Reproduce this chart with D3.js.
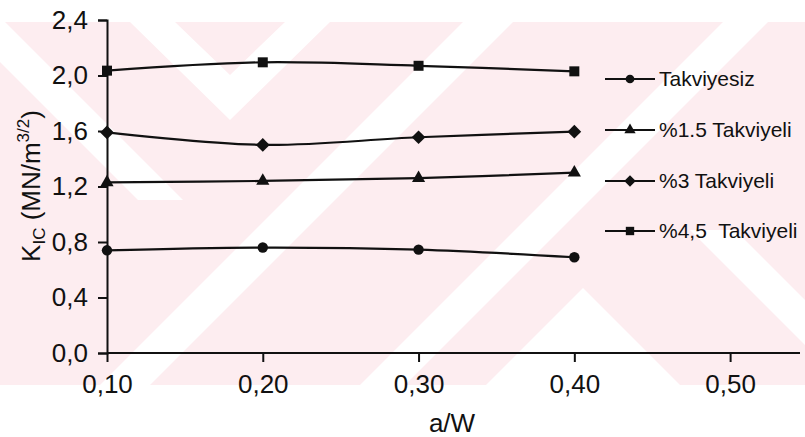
<!DOCTYPE html>
<html>
<head>
<meta charset="utf-8">
<script src="https://cdn.jsdelivr.net/npm/d3@7"></script>
<style>
  html, body { margin: 0; padding: 0; background: #fff; }
  svg { display: block; font-family: "Liberation Sans", Arial, sans-serif; }
</style>
</head>
<body>
<svg id="chart" width="805" height="437"></svg>
<script>
// a/W ratios on the x axis
const ratios = [0.10, 0.20, 0.30, 0.40];
const xTicks = [0.10, 0.20, 0.30, 0.40, 0.50];
const yTicks = [0.0, 0.4, 0.8, 1.2, 1.6, 2.0, 2.4];

// fracture toughness K_IC (MN/m^3/2)
const takviyesiz = [0.74, 0.76, 0.745, 0.69];
const takviyeli15 = [1.23, 1.24, 1.26, 1.30];
const takviyeli3 = [1.59, 1.50, 1.555, 1.595];
const takviyeli45 = [2.035, 2.095, 2.07, 2.03];

const seriesNames = ["Takviyesiz", "%1.5 Takviyeli", "%3 Takviyeli", "%4,5  Takviyeli"];
const seriesValues = [takviyesiz, takviyeli15, takviyeli3, takviyeli45];
const seriesSymbols = [d3.symbolCircle, d3.symbolTriangle, d3.symbolDiamond2, d3.symbolSquare];
const symbolSizes = [85, 75, 120, 100];
const legendSizes = [60, 55, 85, 70];

const svg = d3.select("#chart");
const W = 805;

// faint background print pattern
const bg = svg.append("g");
bg.append("clipPath").attr("id", "band")
  .append("rect").attr("x", 0).attr("y", 22).attr("width", W).attr("height", 363);
const bgc = bg.append("g").attr("clip-path", "url(#band)");
bgc.append("rect").attr("x", 0).attr("y", 22).attr("width", W).attr("height", 363).attr("fill", "#fdedf0");
const whiteShapes = [
  [[130, 22], [230, 120], [330, 22], [285, 22], [230, 75], [175, 22]],
  [[100, 385], [150, 385], [513, 22], [463, 22]],
  [[360, 385], [405, 385], [768, 22], [723, 22]],
  [[583, 288], [680, 385], [486, 385]],
  [[-40, 22], [5, 22], [183, 200], [138, 200]],
  [[690, 230], [735, 230], [890, 385], [845, 385]]
];
bgc.selectAll("polygon").data(whiteShapes).join("polygon")
  .attr("points", d => d.map(p => p.join(",")).join(" "))
  .attr("fill", "#ffffff");

const x = d3.scaleLinear().domain([0.10, 0.55]).range([107, 808]);
const y = d3.scaleLinear().domain([0, 2.4]).range([353, 20]);

// axes
const xAxis = d3.axisBottom(x).tickValues(xTicks).tickSize(9).tickPadding(13)
  .tickFormat(d => d3.format(".2f")(d).replace(".", ","));
const gx = svg.append("g").attr("transform", `translate(0,${y(0)})`).call(xAxis);
gx.select(".domain").attr("d", `M${x(0.10)},0H800`);

const yAxis = d3.axisLeft(y).tickValues(yTicks).tickSize(9).tickPadding(10)
  .tickFormat(d => d3.format(".1f")(d).replace(".", ","));
const gy = svg.append("g").attr("transform", `translate(${x(0.10)},0)`).call(yAxis);

[gx, gy].forEach(g => {
  g.selectAll(".domain").attr("stroke", "#111").attr("stroke-width", 2);
  g.selectAll(".tick line").attr("stroke", "#111").attr("stroke-width", 2);
  g.selectAll(".tick text").attr("fill", "#111").style("font-size", "26px")
    .style("font-family", "'Liberation Sans', Arial, sans-serif");
});

// axis titles
svg.append("text").attr("x", 452).attr("y", 432).attr("text-anchor", "middle")
  .style("font-size", "26px").attr("fill", "#111").text("a/W");

const yt = svg.append("text").attr("transform", "translate(40,186) rotate(-90)")
  .attr("text-anchor", "middle").style("font-size", "26px").attr("fill", "#111");
yt.append("tspan").text("K");
yt.append("tspan").attr("dy", 5).style("font-size", "17px").text("IC");
yt.append("tspan").attr("dy", -5).text(" (MN/m");
yt.append("tspan").attr("dy", -11).style("font-size", "17px").text("3/2");
yt.append("tspan").attr("dy", 11).text(")");

// series
const line = d3.line().x((d, i) => x(ratios[i])).y(d => y(d)).curve(d3.curveCatmullRom);
seriesValues.forEach((vals, s) => {
  svg.append("path").datum(vals).attr("d", line)
    .attr("fill", "none").attr("stroke", "#111").attr("stroke-width", 2.2);
  svg.selectAll(null).data(vals).join("path")
    .attr("transform", (d, i) => `translate(${x(ratios[i])},${y(d)})`)
    .attr("d", d3.symbol(seriesSymbols[s], symbolSizes[s]))
    .attr("fill", "#111");
});

// legend
const legendY = [79, 130, 181, 231];
const lg = svg.append("g");
seriesNames.forEach((name, s) => {
  const g = lg.append("g").attr("transform", `translate(0,${legendY[s]})`);
  g.append("line").attr("x1", 605).attr("x2", 655).attr("stroke", "#111").attr("stroke-width", 2);
  g.append("path").attr("transform", "translate(630,0)")
    .attr("d", d3.symbol(seriesSymbols[s], legendSizes[s])).attr("fill", "#111");
  g.append("text").attr("x", 659).attr("dy", "0.35em").style("font-size", "21px")
    .style("white-space", "pre").attr("fill", "#111").text(name);
});
</script>
</body>
</html>
